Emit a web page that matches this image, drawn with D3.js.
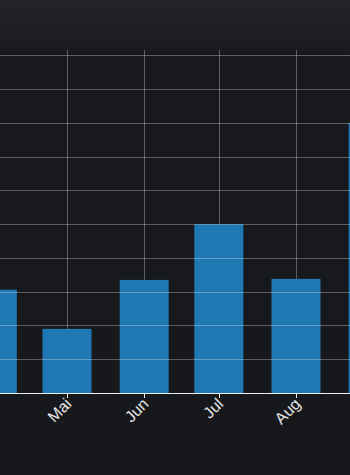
<!DOCTYPE html>
<html>
<head>
<meta charset="utf-8">
<script src="https://cdn.jsdelivr.net/npm/d3@7"></script>
<style>
  html, body { margin: 0; padding: 0; }
  body {
    width: 350px; height: 475px; overflow: hidden;
    background: linear-gradient(180deg, #232428 0px, #1f2023 25px, #18191c 55px, #17181b 475px);
    font-family: "DejaVu Sans", sans-serif;
  }
  #chart { width: 350px; height: 475px; }
  .grid line { stroke: rgba(255,255,255,0.3); stroke-width: 1; shape-rendering: crispEdges; }
  .x-axis path, .x-axis line { stroke: #ececec; shape-rendering: crispEdges; }
  .x-axis text { fill: #e6e6e6; font-size: 16px; }
</style>
</head>
<body>
<div id="chart"></div>
<script>
// months shown (first day of each month), German labels
const months = ["2024-04-01", "2024-05-01", "2024-06-01", "2024-07-01", "2024-08-01", "2024-09-01"];
const monthLabels = ["Apr", "Mai", "Jun", "Jul", "Aug", "Sep"];
const values = [30.6, 19, 33.5, 50, 33.8, 80];
const yTicks = [10, 20, 30, 40, 50, 60, 70, 80, 90, 100];

const parse = d3.timeParse("%Y-%m-%d");
const data = months.map((m, i) => ({date: parse(m), label: monthLabels[i], value: values[i]}));

const W = 350, H = 475;
const plotTop = 50, plotBottom = 393;
const barWidth = 49;

const svg = d3.select("#chart").append("svg")
    .attr("width", W)
    .attr("height", H);

// chart is scrolled sideways: only part of the time axis is in view
const x = d3.scaleTime()
    .domain([parse("2024-05-01"), parse("2024-08-01")])
    .range([67, 296]);

const y = d3.scaleLinear()
    .domain([0, 101.6])
    .range([plotBottom, plotTop]);

// vertical grid (behind bars)
svg.append("g")
    .attr("class", "grid")
    .selectAll("line")
    .data(data)
    .join("line")
    .attr("x1", d => Math.round(x(d.date)) + 0.5)
    .attr("x2", d => Math.round(x(d.date)) + 0.5)
    .attr("y1", plotTop)
    .attr("y2", plotBottom);

svg.append("g")
    .selectAll("rect")
    .data(data)
    .join("rect")
    .attr("x", d => x(d.date) - barWidth / 2)
    .attr("width", barWidth)
    .attr("y", d => y(d.value))
    .attr("height", d => y(0) - y(d.value))
    .attr("fill", "#1f77b4");

// horizontal grid drawn over the bars
svg.append("g")
    .attr("class", "grid")
    .selectAll("line")
    .data(yTicks)
    .join("line")
    .attr("x1", 0)
    .attr("x2", W)
    .attr("y1", d => Math.round(y(d)) + 0.5)
    .attr("y2", d => Math.round(y(d)) + 0.5);

const xAxis = svg.append("g")
    .attr("class", "x-axis")
    .attr("transform", `translate(0,${plotBottom})`)
    .call(d3.axisBottom(x)
        .tickValues(data.map(d => d.date))
        .tickFormat((d, i) => monthLabels[i])
        .tickSize(5)
        .tickSizeOuter(0));

xAxis.select(".domain").attr("d", `M-10,0.5H${W + 10}`);

xAxis.selectAll("text")
    .attr("text-anchor", "end")
    .attr("x", 0)
    .attr("y", 0)
    .attr("dy", null)
    .attr("transform", "translate(5,12) rotate(-45)");

// labels of ticks scrolled out of view are not shown
xAxis.selectAll(".tick")
    .filter(d => x(d) < 0 || x(d) > W)
    .select("text").remove();
</script>
</body>
</html>
